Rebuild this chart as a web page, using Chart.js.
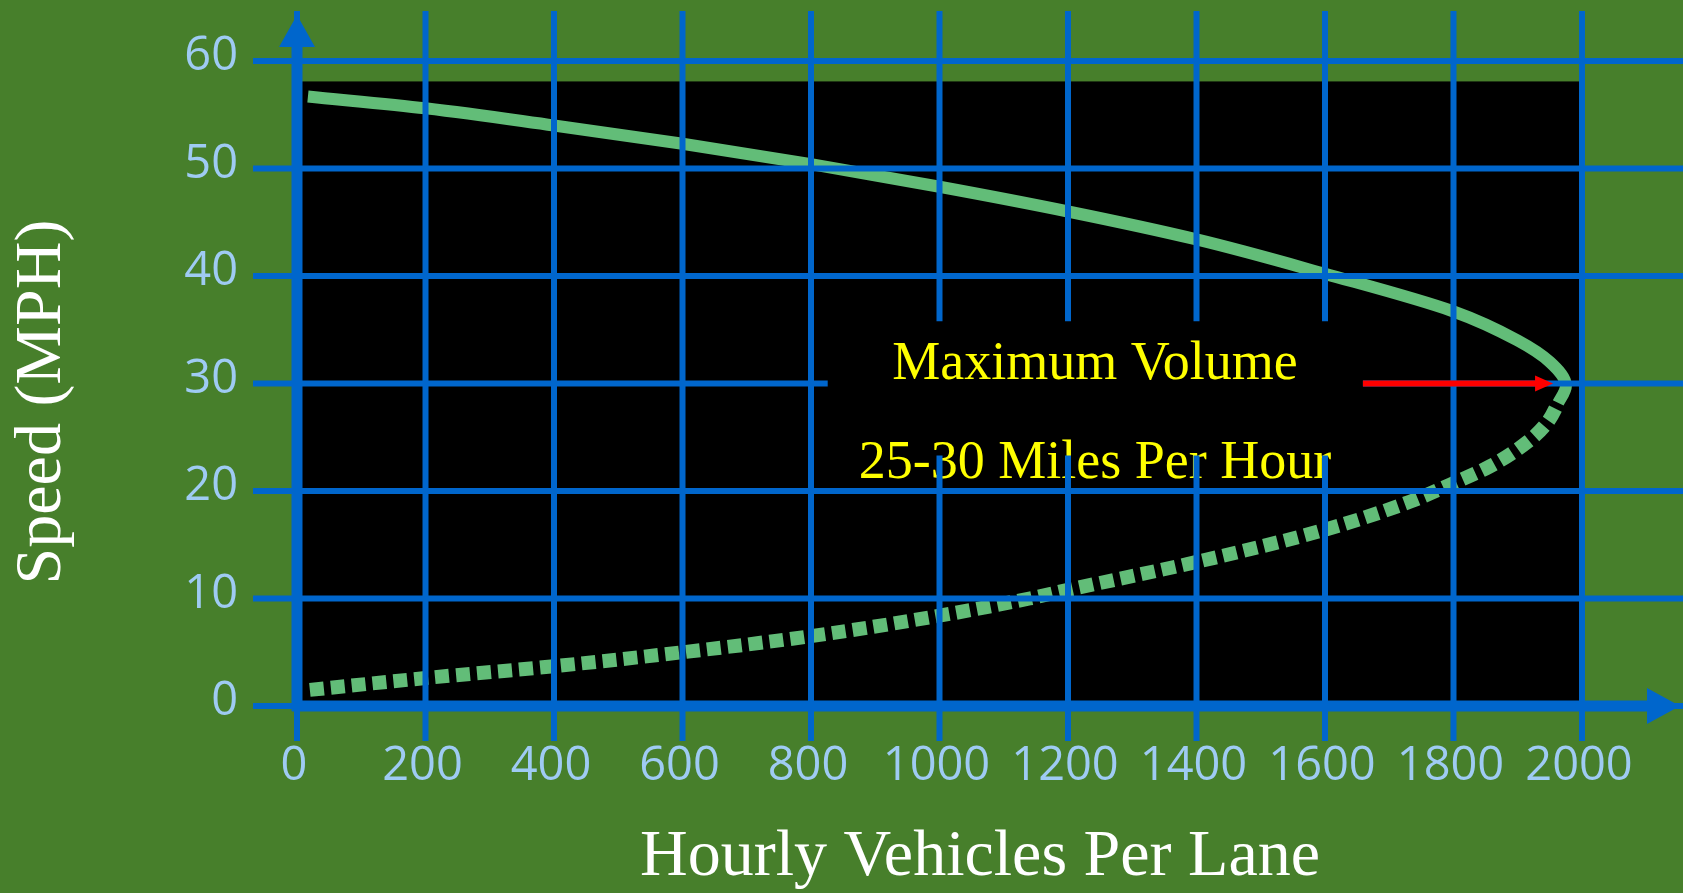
<!DOCTYPE html>
<html>
<head>
<meta charset="utf-8">
<title>Speed vs Hourly Vehicles Per Lane</title>
<script src="https://cdn.jsdelivr.net/npm/chart.js@4.4.1/dist/chart.umd.min.js"></script>
<style>
    html, body { margin: 0; padding: 0; background: #477f2b; }
    #wrap { width: 1683px; height: 893px; position: relative; }
</style>
</head>
<body>
<div id="wrap"><canvas id="chart"></canvas></div>
<script>
// upper branch (free flow) - solid line
const upperFlow  = [17, 200, 400, 600, 800, 1000, 1200, 1400, 1600, 1800, 1900, 1950, 1975];
const upperSpeed = [56.7, 55.6, 54.0, 52.3, 50.4, 48.3, 46.0, 43.4, 40.2, 36.7, 34.0, 32.0, 29.8];

// lower branch (congested) - dotted line
const lowerFlow  = [20, 200, 400, 600, 800, 1000, 1140, 1200, 1400, 1600, 1732, 1795, 1857, 1916, 1945, 1963];
const lowerSpeed = [1.5, 2.6, 3.7, 5.0, 6.5, 8.4, 10, 10.8, 13.4, 16.4, 19.0, 20.6, 22.3, 24.6, 26.3, 28.2];

const xTicks = [0, 200, 400, 600, 800, 1000, 1200, 1400, 1600, 1800, 2000];
const yTicks = [0, 10, 20, 30, 40, 50, 60];

const xTitle = 'Hourly Vehicles Per Lane';
const yTitle = 'Speed (MPH)';
const noteLines = ['Maximum Volume', '25-30 Miles Per Hour'];

// colours
const GREEN = '#477f2b';
const BLUE = '#0066cc';
const CURVE = '#62bd78';
const TICK_TEXT = '#9fcbf3';
const SERIF = '"Liberation Serif", "DejaVu Serif", serif';
const SANS = '"Open Sans", "Noto Sans", sans-serif';

// one continuous curve ordered by speed, so the nose turns smoothly
function buildCurve() {
    const pts = lowerFlow.map((v, i) => ({ x: v, y: lowerSpeed[i] }));
    for (let i = upperFlow.length - 1; i >= 0; i--) {
        pts.push({ x: upperFlow[i], y: upperSpeed[i] });
    }
    return pts;
}
const TIP_SPEED = upperSpeed[upperSpeed.length - 1];

// everything around the curve: black panel, grid, arrows, labels
const speedFlowPlugin = {
    id: 'speedFlow',
    beforeDraw(chart) {
        const ctx = chart.ctx;
        const x = chart.scales.x;
        const y = chart.scales.y;
        ctx.save();
        ctx.fillStyle = GREEN;
        ctx.fillRect(0, 0, chart.width, chart.height);
        const l = x.getPixelForValue(0);
        const r = x.getPixelForValue(2000);
        const t = y.getPixelForValue(58.1);
        const b = y.getPixelForValue(0);
        ctx.fillStyle = '#000';
        ctx.fillRect(l, t, r - l, b - t);
        ctx.restore();
    },
    afterDatasetsDraw(chart) {
        const ctx = chart.ctx;
        const x = chart.scales.x;
        const y = chart.scales.y;
        const W = chart.width;
        const x0 = x.getPixelForValue(0);
        const y0 = y.getPixelForValue(0);

        ctx.save();

        // annotation text
        const noteX = x.getPixelForValue(1242);
        ctx.fillStyle = '#ffff00';
        ctx.font = '54px ' + SERIF;
        ctx.textAlign = 'center';
        ctx.textBaseline = 'alphabetic';
        ctx.fillText(noteLines[0], noteX, 379);
        ctx.fillText(noteLines[1], noteX, 478);

        // grid lines, with a hole where the note sits
        const mL = x.getPixelForValue(826);
        const mR = x.getPixelForValue(1659);
        const mT = y.getPixelForValue(35.8);
        const mB = y.getPixelForValue(23.3);
        ctx.save();
        ctx.beginPath();
        ctx.rect(0, 0, W, chart.height);
        ctx.rect(mL, mT, mR - mL, mB - mT);
        ctx.clip('evenodd');
        ctx.strokeStyle = BLUE;
        ctx.lineWidth = 6;
        yTicks.forEach(v => {
            const py = y.getPixelForValue(v);
            ctx.beginPath();
            ctx.moveTo(x0 - 44, py);
            ctx.lineTo(W, py);
            ctx.stroke();
        });
        xTicks.forEach(v => {
            const px = x.getPixelForValue(v);
            ctx.beginPath();
            ctx.moveTo(px, 11);
            ctx.lineTo(px, y0 + 35);
            ctx.stroke();
        });
        ctx.restore();

        // axes with arrow heads
        ctx.strokeStyle = BLUE;
        ctx.fillStyle = BLUE;
        ctx.lineWidth = 11;
        ctx.beginPath();
        ctx.moveTo(x0, y0 + 5);
        ctx.lineTo(x0, 46);
        ctx.moveTo(x0 - 5, y0);
        ctx.lineTo(1648, y0);
        ctx.stroke();
        ctx.beginPath();
        ctx.moveTo(x0, 15);
        ctx.lineTo(x0 + 18, 47);
        ctx.lineTo(x0 - 18, 47);
        ctx.closePath();
        ctx.fill();
        ctx.beginPath();
        ctx.moveTo(1680, y0);
        ctx.lineTo(1647, y0 - 18);
        ctx.lineTo(1647, y0 + 18);
        ctx.closePath();
        ctx.fill();

        // red arrow pointing at the maximum volume
        const ay = y.getPixelForValue(30);
        const aStart = x.getPixelForValue(1659);
        const aTip = x.getPixelForValue(1955);
        ctx.strokeStyle = '#ff0000';
        ctx.fillStyle = '#ff0000';
        ctx.lineWidth = 6;
        ctx.beginPath();
        ctx.moveTo(aStart, ay);
        ctx.lineTo(aTip - 12, ay);
        ctx.stroke();
        ctx.beginPath();
        ctx.moveTo(aTip, ay);
        ctx.lineTo(aTip - 18, ay - 8);
        ctx.lineTo(aTip - 18, ay + 8);
        ctx.closePath();
        ctx.fill();

        // tick labels
        ctx.fillStyle = TICK_TEXT;
        ctx.font = '47px ' + SANS;
        ctx.textBaseline = 'middle';
        ctx.textAlign = 'right';
        yTicks.forEach(v => {
            ctx.fillText(String(v), 238, y.getPixelForValue(v) - 4);
        });
        ctx.textAlign = 'center';
        xTicks.forEach(v => {
            ctx.fillText(String(v), x.getPixelForValue(v) - 3, 767);
        });

        // axis titles
        ctx.fillStyle = '#ffffff';
        ctx.font = '66px ' + SERIF;
        ctx.textBaseline = 'alphabetic';
        ctx.textAlign = 'center';
        ctx.fillText(xTitle, 980, 875);
        ctx.save();
        ctx.translate(60, 402);
        ctx.rotate(-Math.PI / 2);
        ctx.fillText(yTitle, 0, 0);
        ctx.restore();

        ctx.restore();
    }
};

function initializeChart() {
    const ctx = document.getElementById('chart').getContext('2d');

    new Chart(ctx, {
        type: 'scatter',
        data: {
            datasets: [{
                label: 'Speed-flow curve',
                data: buildCurve(),
                showLine: true,
                borderColor: CURVE,
                borderWidth: 12,
                cubicInterpolationMode: 'monotone',
                pointRadius: 0,
                segment: {
                    // congested branch is dotted and a little heavier
                    borderDash: c => c.p1.parsed.y <= TIP_SPEED - 0.01 ? [14, 7] : undefined,
                    borderWidth: c => c.p1.parsed.y <= TIP_SPEED - 0.01 ? 14 : undefined
                }
            }]
        },
        options: {
            indexAxis: 'y',
            responsive: true,
            maintainAspectRatio: false,
            animation: false,
            layout: {
                padding: { left: 297, right: 101, top: 61, bottom: 187 }
            },
            plugins: {
                legend: { display: false },
                tooltip: { enabled: false }
            },
            scales: {
                x: { type: 'linear', min: 0, max: 2000, display: false },
                y: { type: 'linear', min: 0, max: 60, display: false }
            }
        },
        plugins: [speedFlowPlugin]
    });
}

document.addEventListener('DOMContentLoaded', initializeChart);
</script>
</body>
</html>
